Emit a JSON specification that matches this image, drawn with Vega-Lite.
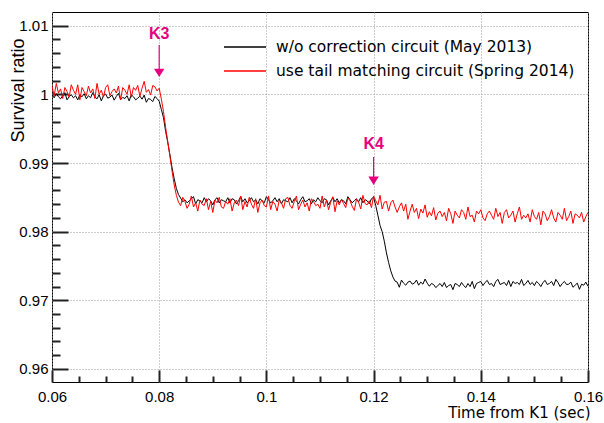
{
  "$schema": "https://vega.github.io/schema/vega-lite/v6.json",
  "width": 536,
  "height": 370,
  "autosize": {"type": "none"},
  "padding": {"left": 52, "top": 12, "right": 16, "bottom": 41},
  "background": "#ffffff",
  "config": {
    "view": {"stroke": "#000000", "strokeWidth": 1},
    "font": "Liberation Sans"
  },
  "datasets": {
    "ratio": [
      {"t":0.0600,"a":0.99995,"b":1.0012},{"t":0.0604,"a":0.99950,"b":0.9998},{"t":0.0608,"a":1.00010,"b":1.0016},{"t":0.0612,"a":0.99965,"b":1.0002},{"t":0.0616,"a":0.99935,"b":1.0008},
      {"t":0.0620,"a":0.99980,"b":0.9994},{"t":0.0624,"a":1.00025,"b":1.0010},{"t":0.0628,"a":0.99920,"b":1.0004},{"t":0.0632,"a":0.99965,"b":0.9996},{"t":0.0636,"a":0.99995,"b":1.0014},
      {"t":0.0640,"a":0.99950,"b":1.0006},{"t":0.0644,"a":0.99980,"b":1.0000},{"t":0.0648,"a":0.99920,"b":1.0014},{"t":0.0652,"a":0.99995,"b":0.9992},{"t":0.0656,"a":0.99965,"b":1.0010},
      {"t":0.0660,"a":1.00010,"b":1.0004},{"t":0.0664,"a":0.99935,"b":0.9998},{"t":0.0668,"a":0.99980,"b":1.0012},{"t":0.0672,"a":0.99950,"b":1.0002},{"t":0.0676,"a":1.00025,"b":1.0008},
      {"t":0.0680,"a":0.99965,"b":0.9994},{"t":0.0684,"a":0.99935,"b":1.0016},{"t":0.0688,"a":0.99995,"b":1.0000},{"t":0.0692,"a":0.99905,"b":1.0006},{"t":0.0696,"a":0.99980,"b":0.9996},
      {"t":0.0700,"a":1.00005,"b":1.0010},{"t":0.0704,"a":0.99945,"b":1.0014},{"t":0.0708,"a":0.99960,"b":0.9998},{"t":0.0712,"a":0.99990,"b":1.0004},{"t":0.0716,"a":0.99915,"b":1.0008},
      {"t":0.0720,"a":0.99970,"b":1.0002},{"t":0.0724,"a":1.00015,"b":1.0012},{"t":0.0728,"a":0.99925,"b":0.9992},{"t":0.0732,"a":0.99955,"b":1.0010},{"t":0.0736,"a":0.99940,"b":1.0006},
      {"t":0.0740,"a":0.99980,"b":1.0000},{"t":0.0744,"a":0.99905,"b":1.0014},{"t":0.0748,"a":0.99995,"b":0.9996},{"t":0.0752,"a":0.99965,"b":1.0010},{"t":0.0756,"a":0.99920,"b":1.0006},
      {"t":0.0760,"a":0.99945,"b":1.0013},{"t":0.0764,"a":0.99975,"b":0.9997},{"t":0.0768,"a":0.99930,"b":1.0009},{"t":0.0772,"a":0.99990,"b":1.0019},{"t":0.0776,"a":0.99885,"b":1.0003},
      {"t":0.0780,"a":0.99940,"b":1.0007},{"t":0.0784,"a":0.99925,"b":0.9999},{"t":0.0788,"a":0.99895,"b":1.0013},{"t":0.0792,"a":0.99970,"b":1.0011},{"t":0.0796,"a":0.99940,"b":1.0005},
      {"t":0.0800,"a":0.99900,"b":1.0009},{"t":0.0804,"a":0.99780,"b":0.9993},{"t":0.0808,"a":0.99660,"b":0.9975},{"t":0.0812,"a":0.99460,"b":0.9952},{"t":0.0816,"a":0.99300,"b":0.9931},
      {"t":0.0820,"a":0.99120,"b":0.9910},{"t":0.0824,"a":0.98930,"b":0.9888},{"t":0.0828,"a":0.98770,"b":0.9868},{"t":0.0832,"a":0.98630,"b":0.9853},{"t":0.0836,"a":0.98540,"b":0.9843},
      {"t":0.0840,"a":0.98490,"b":0.9838},{"t":0.0844,"a":0.98435,"b":0.9850},{"t":0.0848,"a":0.98465,"b":0.9844},{"t":0.0852,"a":0.98420,"b":0.9834},{"t":0.0856,"a":0.98450,"b":0.9840},
      {"t":0.0860,"a":0.98480,"b":0.9852},{"t":0.0864,"a":0.98510,"b":0.9836},{"t":0.0868,"a":0.98405,"b":0.9842},{"t":0.0872,"a":0.98465,"b":0.9830},{"t":0.0876,"a":0.98450,"b":0.9846},
      {"t":0.0880,"a":0.98420,"b":0.9840},{"t":0.0884,"a":0.98495,"b":0.9838},{"t":0.0888,"a":0.98435,"b":0.9848},{"t":0.0892,"a":0.98480,"b":0.9832},{"t":0.0896,"a":0.98450,"b":0.9844},
      {"t":0.0900,"a":0.98390,"b":0.9828},{"t":0.0904,"a":0.98465,"b":0.9846},{"t":0.0908,"a":0.98495,"b":0.9842},{"t":0.0912,"a":0.98420,"b":0.9850},{"t":0.0916,"a":0.98465,"b":0.9836},
      {"t":0.0920,"a":0.98450,"b":0.9834},{"t":0.0924,"a":0.98435,"b":0.9844},{"t":0.0928,"a":0.98495,"b":0.9840},{"t":0.0932,"a":0.98420,"b":0.9848},{"t":0.0936,"a":0.98480,"b":0.9830},
      {"t":0.0940,"a":0.98465,"b":0.9842},{"t":0.0944,"a":0.98405,"b":0.9846},{"t":0.0948,"a":0.98450,"b":0.9838},{"t":0.0952,"a":0.98510,"b":0.9852},{"t":0.0956,"a":0.98435,"b":0.9832},
      {"t":0.0960,"a":0.98480,"b":0.9844},{"t":0.0964,"a":0.98420,"b":0.9836},{"t":0.0968,"a":0.98450,"b":0.9850},{"t":0.0972,"a":0.98495,"b":0.9840},{"t":0.0976,"a":0.98435,"b":0.9834},
      {"t":0.0980,"a":0.98465,"b":0.9848},{"t":0.0984,"a":0.98405,"b":0.9828},{"t":0.0988,"a":0.98480,"b":0.9842},{"t":0.0992,"a":0.98450,"b":0.9846},{"t":0.0996,"a":0.98420,"b":0.9838},
      {"t":0.1000,"a":0.98510,"b":0.9836},{"t":0.1004,"a":0.98465,"b":0.9852},{"t":0.1008,"a":0.98420,"b":0.9832},{"t":0.1012,"a":0.98450,"b":0.9844},{"t":0.1016,"a":0.98495,"b":0.9840},
      {"t":0.1020,"a":0.98435,"b":0.9830},{"t":0.1024,"a":0.98480,"b":0.9846},{"t":0.1028,"a":0.98405,"b":0.9842},{"t":0.1032,"a":0.98465,"b":0.9834},{"t":0.1036,"a":0.98450,"b":0.9848},
      {"t":0.1040,"a":0.98435,"b":0.9850},{"t":0.1044,"a":0.98495,"b":0.9838},{"t":0.1048,"a":0.98420,"b":0.9834},{"t":0.1052,"a":0.98480,"b":0.9844},{"t":0.1056,"a":0.98450,"b":0.9852},
      {"t":0.1060,"a":0.98405,"b":0.9832},{"t":0.1064,"a":0.98465,"b":0.9840},{"t":0.1068,"a":0.98510,"b":0.9846},{"t":0.1072,"a":0.98435,"b":0.9836},{"t":0.1076,"a":0.98450,"b":0.9842},
      {"t":0.1080,"a":0.98480,"b":0.9830},{"t":0.1084,"a":0.98405,"b":0.9848},{"t":0.1088,"a":0.98465,"b":0.9844},{"t":0.1092,"a":0.98435,"b":0.9838},{"t":0.1096,"a":0.98495,"b":0.9840},
      {"t":0.1100,"a":0.98450,"b":0.9834},{"t":0.1104,"a":0.98420,"b":0.9852},{"t":0.1108,"a":0.98480,"b":0.9836},{"t":0.1112,"a":0.98465,"b":0.9846},{"t":0.1116,"a":0.98390,"b":0.9832},
      {"t":0.1120,"a":0.98450,"b":0.9843},{"t":0.1124,"a":0.98495,"b":0.9851},{"t":0.1128,"a":0.98435,"b":0.9829},{"t":0.1132,"a":0.98480,"b":0.9845},{"t":0.1136,"a":0.98420,"b":0.9839},
      {"t":0.1140,"a":0.98465,"b":0.9847},{"t":0.1144,"a":0.98450,"b":0.9841},{"t":0.1148,"a":0.98405,"b":0.9835},{"t":0.1152,"a":0.98510,"b":0.9849},{"t":0.1156,"a":0.98465,"b":0.9845},
      {"t":0.1160,"a":0.98420,"b":0.9837},{"t":0.1164,"a":0.98450,"b":0.9831},{"t":0.1168,"a":0.98480,"b":0.9847},{"t":0.1172,"a":0.98435,"b":0.9843},{"t":0.1176,"a":0.98495,"b":0.9833},
      {"t":0.1180,"a":0.98420,"b":0.9853},{"t":0.1184,"a":0.98465,"b":0.9841},{"t":0.1188,"a":0.98450,"b":0.9839},{"t":0.1192,"a":0.98405,"b":0.9845},{"t":0.1196,"a":0.98480,"b":0.9835},
      {"t":0.1200,"a":0.98500,"b":0.9852},{"t":0.1204,"a":0.98380,"b":0.9845},{"t":0.1208,"a":0.98240,"b":0.9839},{"t":0.1212,"a":0.98090,"b":0.9853},{"t":0.1216,"a":0.98000,"b":0.9833},
      {"t":0.1220,"a":0.97860,"b":0.9843},{"t":0.1224,"a":0.97690,"b":0.9844},{"t":0.1228,"a":0.97550,"b":0.9830},{"t":0.1232,"a":0.97430,"b":0.9842},{"t":0.1236,"a":0.97340,"b":0.9846},
      {"t":0.1240,"a":0.97280,"b":0.9836},{"t":0.1244,"a":0.97265,"b":0.9828},{"t":0.1248,"a":0.97190,"b":0.9836},{"t":0.1252,"a":0.97295,"b":0.9842},{"t":0.1256,"a":0.97250,"b":0.9830},
      {"t":0.1260,"a":0.97220,"b":0.9840},{"t":0.1264,"a":0.97265,"b":0.9818},{"t":0.1268,"a":0.97280,"b":0.9830},{"t":0.1272,"a":0.97235,"b":0.9840},{"t":0.1276,"a":0.97250,"b":0.9828},
      {"t":0.1280,"a":0.97295,"b":0.9834},{"t":0.1284,"a":0.97220,"b":0.9819},{"t":0.1288,"a":0.97265,"b":0.9833},{"t":0.1292,"a":0.97235,"b":0.9827},{"t":0.1296,"a":0.97310,"b":0.9839},
      {"t":0.1300,"a":0.97250,"b":0.9821},{"t":0.1304,"a":0.97205,"b":0.9829},{"t":0.1308,"a":0.97245,"b":0.9823},{"t":0.1312,"a":0.97230,"b":0.9835},{"t":0.1316,"a":0.97185,"b":0.9817},
      {"t":0.1320,"a":0.97215,"b":0.9827},{"t":0.1324,"a":0.97245,"b":0.9830},{"t":0.1328,"a":0.97200,"b":0.9822},{"t":0.1332,"a":0.97260,"b":0.9828},{"t":0.1336,"a":0.97185,"b":0.9816},
      {"t":0.1340,"a":0.97215,"b":0.9834},{"t":0.1344,"a":0.97230,"b":0.9826},{"t":0.1348,"a":0.97155,"b":0.9812},{"t":0.1352,"a":0.97245,"b":0.9830},{"t":0.1356,"a":0.97230,"b":0.9824},
      {"t":0.1360,"a":0.97200,"b":0.9820},{"t":0.1364,"a":0.97260,"b":0.9832},{"t":0.1368,"a":0.97215,"b":0.9828},{"t":0.1372,"a":0.97185,"b":0.9818},{"t":0.1376,"a":0.97245,"b":0.9836},
      {"t":0.1380,"a":0.97200,"b":0.9822},{"t":0.1384,"a":0.97275,"b":0.9824},{"t":0.1388,"a":0.97170,"b":0.9814},{"t":0.1392,"a":0.97245,"b":0.9830},{"t":0.1396,"a":0.97260,"b":0.9826},
      {"t":0.1400,"a":0.97275,"b":0.9832},{"t":0.1404,"a":0.97215,"b":0.9820},{"t":0.1408,"a":0.97260,"b":0.9816},{"t":0.1412,"a":0.97290,"b":0.9826},{"t":0.1416,"a":0.97230,"b":0.9830},
      {"t":0.1420,"a":0.97245,"b":0.9824},{"t":0.1424,"a":0.97200,"b":0.9818},{"t":0.1428,"a":0.97275,"b":0.9834},{"t":0.1432,"a":0.97305,"b":0.9822},{"t":0.1436,"a":0.97230,"b":0.9828},
      {"t":0.1440,"a":0.97245,"b":0.9812},{"t":0.1444,"a":0.97260,"b":0.9828},{"t":0.1448,"a":0.97215,"b":0.9832},{"t":0.1452,"a":0.97290,"b":0.9820},{"t":0.1456,"a":0.97200,"b":0.9824},
      {"t":0.1460,"a":0.97275,"b":0.9830},{"t":0.1464,"a":0.97245,"b":0.9814},{"t":0.1468,"a":0.97260,"b":0.9826},{"t":0.1472,"a":0.97230,"b":0.9836},{"t":0.1476,"a":0.97305,"b":0.9818},
      {"t":0.1480,"a":0.97215,"b":0.9824},{"t":0.1484,"a":0.97245,"b":0.9820},{"t":0.1488,"a":0.97290,"b":0.9826},{"t":0.1492,"a":0.97230,"b":0.9814},{"t":0.1496,"a":0.97260,"b":0.9832},
      {"t":0.1500,"a":0.97215,"b":0.9822},{"t":0.1504,"a":0.97275,"b":0.9818},{"t":0.1508,"a":0.97245,"b":0.9828},{"t":0.1512,"a":0.97200,"b":0.9810},{"t":0.1516,"a":0.97260,"b":0.9830},
      {"t":0.1520,"a":0.97290,"b":0.9826},{"t":0.1524,"a":0.97230,"b":0.9816},{"t":0.1528,"a":0.97245,"b":0.9822},{"t":0.1532,"a":0.97275,"b":0.9832},{"t":0.1536,"a":0.97215,"b":0.9820},
      {"t":0.1540,"a":0.97305,"b":0.9814},{"t":0.1544,"a":0.97260,"b":0.9828},{"t":0.1548,"a":0.97200,"b":0.9824},{"t":0.1552,"a":0.97245,"b":0.9818},{"t":0.1556,"a":0.97275,"b":0.9834},
      {"t":0.1560,"a":0.97230,"b":0.9816},{"t":0.1564,"a":0.97235,"b":0.9822},{"t":0.1568,"a":0.97265,"b":0.9830},{"t":0.1572,"a":0.97190,"b":0.9812},{"t":0.1576,"a":0.97220,"b":0.9826},
      {"t":0.1580,"a":0.97250,"b":0.9824},{"t":0.1584,"a":0.97160,"b":0.9820},{"t":0.1588,"a":0.97235,"b":0.9828},{"t":0.1592,"a":0.97220,"b":0.9814},{"t":0.1596,"a":0.97265,"b":0.9822},
      {"t":0.1600,"a":0.97205,"b":0.9828}
    ],
    "kicks": [
      {"t":0.08,"label":"K3","ty":1.0088,"y1":1.0072,"y2":1.0036,"tip":1.00314},
      {"t":0.12,"label":"K4","ty":0.99277,"y1":0.99088,"y2":0.98782,"tip":0.98741}
    ]
  },
  "resolve": {"axis": {"x": "independent", "y": "independent"}},
  "layer": [
    {
      "data": {"name": "ratio"},
      "transform": [{"fold": ["a", "b"], "as": ["series", "ratio"]}],
      "mark": {"type": "line", "strokeWidth": 1, "clip": true},
      "encoding": {
        "x": {
          "field": "t", "type": "quantitative",
          "scale": {"domain": [0.06, 0.16], "nice": false, "zero": false},
          "axis": {
            "orient": "bottom", "offset": -12,
            "values": [0.06, 0.08, 0.1, 0.12, 0.14, 0.16],
            "format": "~g",
            "grid": true, "gridColor": "#9a9a9a", "gridDash": [1, 2], "gridWidth": 1,
            "ticks": true, "tickSize": 12, "tickColor": "#222222", "tickWidth": 2,
            "domain": false,
            "labelFlush": false, "labelFont": "Liberation Sans", "labelFontSize": 15,
            "labelColor": "#000000", "labelPadding": 7,
            "title": "Time from K1 (sec)",
            "titleFont": "DejaVu Sans", "titleFontSize": 15, "titleFontWeight": "normal",
            "titleColor": "#000000", "titleAlign": "right", "titleBaseline": "alphabetic",
            "titleX": 538, "titleY": 47
          }
        },
        "y": {
          "field": "ratio", "type": "quantitative",
          "scale": {"domain": [0.9581, 1.012], "nice": false, "zero": false},
          "axis": {
            "orient": "left", "offset": -16,
            "values": [0.96, 0.97, 0.98, 0.99, 1, 1.01],
            "format": "~g",
            "grid": true, "gridColor": "#9a9a9a", "gridDash": [1, 2], "gridWidth": 1,
            "ticks": true, "tickSize": 16, "tickColor": "#222222", "tickWidth": 2,
            "domain": false,
            "labelFont": "Liberation Sans", "labelFontSize": 15,
            "labelColor": "#000000", "labelPadding": 4,
            "title": "Survival ratio",
            "titleFont": "Liberation Sans", "titleFontSize": 18, "titleFontWeight": "normal",
            "titleColor": "#000000", "titleAngle": 270, "titleAlign": "right", "titleBaseline": "alphabetic",
            "titleX": -45, "titleY": 26
          }
        },
        "color": {
          "field": "series", "type": "nominal",
          "scale": {"domain": ["a", "b"], "range": ["#000000", "#ff0000"]},
          "legend": {
            "orient": "none", "legendX": 171, "legendY": 26,
            "title": null,
            "padding": 0,
            "symbolType": "stroke", "symbolSize": 1764, "symbolStrokeWidth": 1.5,
            "clipHeight": 18, "rowPadding": 6,
            "labelFont": "DejaVu Sans", "labelFontSize": 15.5, "labelColor": "#000000",
            "labelOffset": 9, "labelLimit": 400,
            "labelExpr": "datum.value == 'a' ? 'w/o correction circuit (May 2013)' : 'use tail matching circuit (Spring 2014)'"
          }
        }
      }
    },
    {
      "data": {"name": "kicks"},
      "mark": {"type": "rule", "color": "#e6007e", "strokeWidth": 1.2},
      "encoding": {
        "x": {
          "field": "t", "type": "quantitative",
          "scale": {"domain": [0.06, 0.16], "nice": false, "zero": false},
          "axis": {
            "orient": "bottom",
            "values": [0.065, 0.07, 0.075, 0.085, 0.09, 0.095, 0.105, 0.11, 0.115, 0.125, 0.13, 0.135, 0.145, 0.15, 0.155],
            "labels": false, "grid": false, "domain": false, "title": null,
            "ticks": true, "offset": -6, "tickSize": 6, "tickColor": "#222222", "tickWidth": 2
          }
        },
        "y": {
          "field": "y1", "type": "quantitative",
          "scale": {"domain": [0.9581, 1.012], "nice": false, "zero": false},
          "axis": {
            "orient": "left",
            "values": [0.962, 0.964, 0.966, 0.968, 0.972, 0.974, 0.976, 0.978, 0.982, 0.984, 0.986, 0.988, 0.992, 0.994, 0.996, 0.998, 1.002, 1.004, 1.006, 1.008],
            "labels": false, "grid": false, "domain": false, "title": null,
            "ticks": true, "offset": -8, "tickSize": 8, "tickColor": "#222222", "tickWidth": 2
          }
        },
        "y2": {"field": "y2"}
      }
    },
    {
      "data": {"name": "kicks"},
      "mark": {"type": "point", "shape": "M-1,-0.8L1,-0.8L0,0.8Z", "filled": true, "color": "#e6007e", "size": 110, "opacity": 1},
      "encoding": {
        "x": {"field": "t", "type": "quantitative", "scale": {"domain": [0.06, 0.16], "nice": false, "zero": false}, "axis": null},
        "y": {"field": "tip", "type": "quantitative", "scale": {"domain": [0.9581, 1.012], "nice": false, "zero": false}, "axis": null}
      }
    },
    {
      "data": {"name": "kicks"},
      "mark": {"type": "text", "font": "Liberation Sans", "fontWeight": "bold", "fontSize": 16, "color": "#e6007e", "align": "center", "baseline": "middle"},
      "encoding": {
        "x": {"field": "t", "type": "quantitative", "scale": {"domain": [0.06, 0.16], "nice": false, "zero": false}, "axis": null},
        "y": {"field": "ty", "type": "quantitative", "scale": {"domain": [0.9581, 1.012], "nice": false, "zero": false}, "axis": null},
        "text": {"field": "label"}
      }
    }
  ]
}
